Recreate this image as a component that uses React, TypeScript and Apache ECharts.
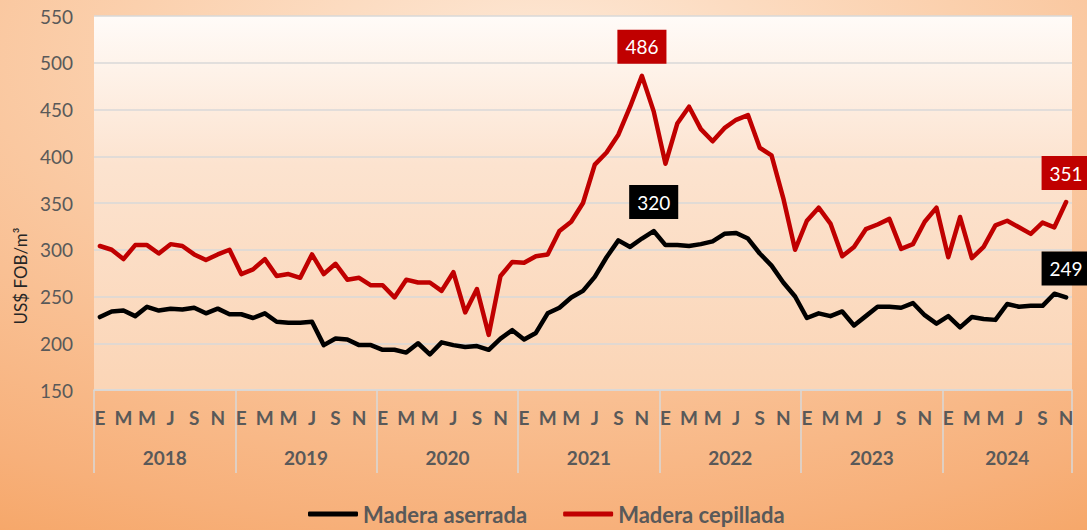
import React, { useEffect, useRef } from "react";
import * as echarts from "echarts";

const years = ["2018", "2019", "2020", "2021", "2022", "2023", "2024"];
const monthLetters = ["E", "F", "M", "A", "M", "J", "J", "A", "S", "O", "N", "D"];
const monthCount = 83; // Jan 2018 - Nov 2024

const aserrada = [
  228, 234, 235, 229, 239, 235, 237, 236, 238, 232, 237, 231,
  231, 227, 232, 223, 222, 222, 223, 198, 205, 204, 198, 198,
  193, 193, 190, 200, 188, 201, 198, 196, 197, 193, 205, 214,
  204, 211, 232, 238, 249, 256, 271, 292, 310, 303, 312, 320,
  305, 305, 304, 306, 309, 317, 318, 312, 296, 283, 265, 250,
  227, 232, 229, 234, 219, 229, 239, 239, 238, 243, 230, 221,
  229, 217, 228, 226, 225, 242, 239, 240, 240, 253, 249,
];

const cepillada = [
  304, 300, 290, 305, 305, 296, 306, 304, 295, 289, 295, 300,
  274, 279, 290, 272, 274, 270, 295, 274, 285, 268, 270, 262,
  262, 249, 268, 265, 265, 256, 276, 233, 258, 209, 272, 287,
  286, 293, 295, 320, 330, 350, 391, 404, 423, 453, 486, 448,
  392, 435, 453, 429, 416, 430, 439, 444, 409, 401, 355, 300,
  331, 345, 328, 293, 303, 322, 327, 333, 301, 306, 330, 345,
  292, 335, 291, 303, 326, 331, 324, 317, 329, 324, 351,
];

const labeledAserrada = [47, 82];
const labeledCepillada = [46, 82];

const yMin = 150;
const yMax = 550;
const yInterval = 50;

const seriesNames = ["Madera aserrada", "Madera cepillada"];

export default function App() {
  const ref = useRef<HTMLDivElement>(null);

  useEffect(() => {
    document.body.style.margin = "0";
    const chart = echarts.init(ref.current!, null, { renderer: "svg" });
    const FONT = "Lato";
    const GRAY = "#595959";
    const GRID = "#d9d9d9";

    const categories = Array.from(
      { length: monthCount },
      (_, i) => `${years[Math.floor(i / 12)]}-${(i % 12) + 1}`
    );

    const mk = (vals: number[], labeled: number[], color: string) =>
      vals.map((v, i) =>
        labeled.includes(i)
          ? {
              value: v,
              label: {
                show: true,
                position: "top",
                distance: 12,
                color: "#ffffff",
                backgroundColor: color,
                padding: [6, 8],
                fontSize: 19,
                lineHeight: 22,
                fontFamily: FONT,
              },
            }
          : v
      );

    const yearStyle = {
      fontFamily: FONT,
      fontSize: 19,
      fontWeight: "bold",
      color: GRAY,
    };

    chart.setOption({
      animation: false,
      graphic: [
        {
          type: "rect",
          z: -100,
          silent: true,
          shape: { x: 0, y: 0, width: 1087, height: 530 },
          style: {
            fill: new echarts.graphic.RadialGradient(0.5, 0.1, 1.1, [
              { offset: 0, color: "#fde8d6" },
              { offset: 0.35, color: "#fbd0ad" },
              { offset: 0.82, color: "#f7b07a" },
              { offset: 0.93, color: "#f6a86b" },
              { offset: 1, color: "#f49e5a" },
            ]),
          },
        },
        {
          type: "text",
          x: 20,
          y: 276,
          rotation: Math.PI / 2,
          style: {
            text: "US$ FOB/m³",
            fontFamily: FONT,
            fontSize: 17,
            fill: "#262626",
            align: "center",
            verticalAlign: "middle",
          },
        },
      ],
      grid: {
        left: 94,
        right: 15,
        top: 16,
        bottom: 140,
        show: true,
        borderWidth: 0,
        backgroundColor: new echarts.graphic.LinearGradient(0, 0, 0, 1, [
          { offset: 0, color: "#fffbf8" },
          { offset: 0.4, color: "#fce3cf" },
          { offset: 1, color: "#fbd5b6" },
        ]),
      },
      legend: {
        left: 303,
        top: 498,
        itemWidth: 50,
        itemHeight: 5,
        itemGap: 36,
        icon: "roundRect",
        data: seriesNames,
        textStyle: {
          fontFamily: FONT,
          fontSize: 22,
          fontWeight: "bold",
          color: GRAY,
        },
      },
      xAxis: [
        {
          type: "category",
          data: categories,
          boundaryGap: true,
          axisLine: { show: true, lineStyle: { color: GRID, width: 1.5 } },
          axisTick: { show: false },
          axisLabel: {
            interval: (i: number) => i % 2 === 0,
            formatter: (_v: string, i: number) => monthLetters[i % 12],
            fontFamily: FONT,
            fontSize: 19,
            fontWeight: "bold",
            color: GRAY,
            margin: 18,
          },
        },
        {
          type: "category",
          data: categories,
          position: "bottom",
          boundaryGap: true,
          axisLine: { show: false },
          axisTick: {
            show: true,
            interval: (i: number) => i % 12 === 0,
            length: 83,
            lineStyle: { color: GRID, width: 1.5 },
          },
          axisLabel: {
            interval: (i: number) => i % 12 === 5,
            margin: 58,
            formatter: (_v: string, i: number) => {
              const yi = Math.floor(i / 12);
              const full = (yi + 1) * 12 <= monthCount;
              return full ? `{s|${years[yi]}}` : `{n|${years[yi]}}`;
            },
            rich: {
              s: { ...yearStyle, padding: [0, 0, 0, 11.8] },
              n: { ...yearStyle },
            },
            ...yearStyle,
          },
        },
      ],
      yAxis: {
        type: "value",
        min: yMin,
        max: yMax,
        interval: yInterval,
        axisLine: { show: false },
        axisTick: { show: false },
        axisLabel: {
          fontFamily: FONT,
          fontSize: 19,
          color: GRAY,
          margin: 21,
        },
        splitLine: { lineStyle: { color: GRID, width: 1.5 } },
      },
      series: [
        {
          name: seriesNames[0],
          type: "line",
          xAxisIndex: 0,
          data: mk(aserrada, labeledAserrada, "#000000"),
          symbol: "circle",
          symbolSize: 0,
          showAllSymbol: true,
          lineStyle: { color: "#000000", width: 4.5, join: "round", cap: "round" },
          itemStyle: { color: "#000000" },
          z: 3,
        },
        {
          name: seriesNames[1],
          type: "line",
          xAxisIndex: 0,
          data: mk(cepillada, labeledCepillada, "#c00000"),
          symbol: "circle",
          symbolSize: 0,
          showAllSymbol: true,
          lineStyle: { color: "#c00000", width: 4.5, join: "round", cap: "round" },
          itemStyle: { color: "#c00000" },
          z: 2,
        },
      ],
    });

    return () => chart.dispose();
  }, []);

  return (
    <div
      ref={ref}
      style={{ position: "absolute", left: 0, top: 0, width: 1087, height: 530 }}
    />
  );
}
